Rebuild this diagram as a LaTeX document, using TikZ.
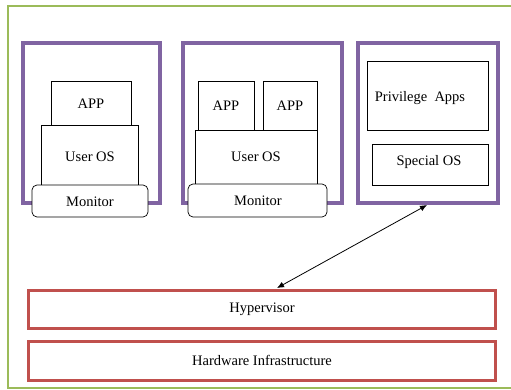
\documentclass[tikz,border=0pt]{standalone}
\usepackage{fontspec}
\setmainfont{Liberation Serif}
\usetikzlibrary{arrows.meta}
\definecolor{frameGreen}{RGB}{155,187,89}
\definecolor{vmPurple}{RGB}{128,100,162}
\definecolor{layerRed}{RGB}{192,80,77}
\tikzset{
  vmframe/.style={draw=vmPurple, line width=3.8pt},
  layer/.style={draw=layerRed, line width=3pt},
  plainbox/.style={draw=black, line width=0.7pt, fill=white},
  roundbox/.style={draw=black, line width=0.7pt, fill=white, rounded corners=5pt},
  lbl/.style={font=\fontsize{14.5}{16}\selectfont, inner sep=0pt},
  link/.style={draw=black, line width=0.8pt, {Latex[length=7pt,width=6pt]}-{Latex[length=7pt,width=6pt]}}
}
\begin{document}
\begin{tikzpicture}[x=1pt, y=-1pt]
\useasboundingbox (0,0) rectangle (511,389);
\clip (0,0) rectangle (511,389);
\fill[white] (0,0) rectangle (511,389);
% outer frame
\draw[frameGreen, line width=2.6pt] (8,6) rectangle (520,388);

% virtual machine frames
\draw[vmframe] (23,43) rectangle (160,203);
\draw[vmframe] (183,43) rectangle (342,203);
\draw[vmframe] (358,43) coordinate (v3tl) rectangle (498,203) coordinate (v3br);
\coordinate (v3anchor) at (427,205);

% first guest
\draw[plainbox] (51,81) rectangle (131,125);
\node[lbl] (app1) at (91,104) {APP};
\draw[plainbox] (41,125) rectangle (138,185);
\node[lbl] (os1) at (90,157) {User OS};
\draw[roundbox] (32,185) rectangle (148,217);
\node[lbl] (mon1) at (90,202) {Monitor};

% second guest
\draw[plainbox] (198,81) rectangle (254,130);
\node[lbl] (app2a) at (226,106) {APP};
\draw[plainbox] (263,81) rectangle (317,130);
\node[lbl] (app2b) at (290,106) {APP};
\draw[plainbox] (195,130) rectangle (317,184);
\node[lbl] (os2) at (256,157) {User OS};
\draw[roundbox] (188,184) rectangle (327,217);
\node[lbl] (mon2) at (258,201) {Monitor};

% privileged domain
\draw[plainbox] (367,61) rectangle (488,130);
\node[lbl] (papps) at (420,98) {Privilege\ \ Apps};
\draw[plainbox] (372,144) rectangle (488,185);
\node[lbl] (sos) at (429,162) {Special OS};

% hypervisor and hardware
\draw[layer] (28,290) rectangle (495,328);
\node[lbl] (hyp) at (262,309) {Hypervisor};
\coordinate (hyptop) at (277,288);
\draw[layer] (28,341) rectangle (495,380);
\node[lbl] (hw) at (262,360) {Hardware Infrastructure};

% control link
\draw[link] (hyptop) -- (v3anchor);
\end{tikzpicture}
\end{document}
